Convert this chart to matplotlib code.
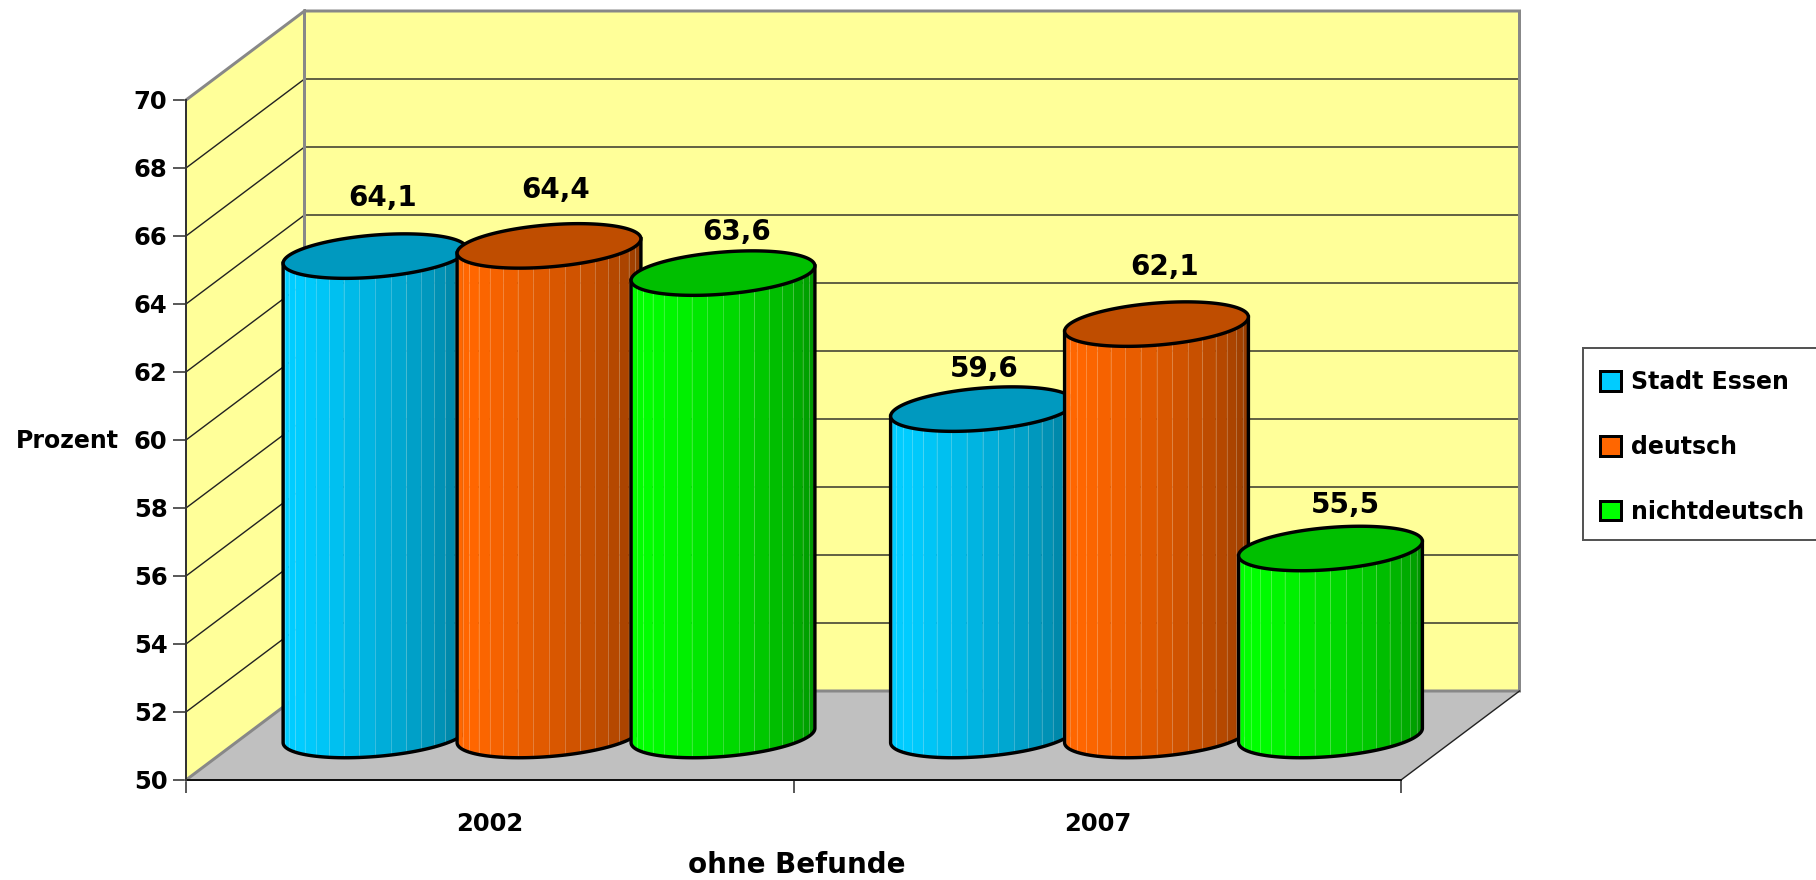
import numpy as np
import matplotlib
matplotlib.use("Agg")
import matplotlib.pyplot as plt
from matplotlib.patches import Patch, Rectangle

years = ["2002", "2007"]
series_names = ["Stadt Essen", "deutsch", "nichtdeutsch"]
stadt_essen = [64.1, 59.6]
deutsch = [64.4, 62.1]
nichtdeutsch = [63.6, 55.5]
series_values = [stadt_essen, deutsch, nichtdeutsch]
value_labels = [["64,1", "59,6"], ["64,4", "62,1"], ["63,6", "55,5"]]
series_colors = ["#00ccff", "#ff6600", "#00ff00"]
y_ticks = list(range(50, 71, 2))

# hand placed label offsets in the original, (dx, dy) in pixels from the top centre
label_offsets = [[(8, 58), (2, 40)], [(7, 56), (8, 57)], [(14, 41), (15, 43)]]

W, H = 1816, 880
FONT = "DejaVu Sans"
PX = 72 / 100  # points per pixel at dpi 100

plt.rcParams["font.family"] = FONT
plt.rcParams["font.weight"] = "bold"

fig = plt.figure(figsize=(W / 100, H / 100), dpi=100)
# the axes rectangle is the front plane of the 3d box
ax = fig.add_axes([186 / W, (H - 780) / H, 1215 / W, 680 / H])
ax.set_xlim(0, 2)
ax.set_ylim(50, 70)
ax.patch.set_visible(False)

# depth axis: d=1 is the back wall
DX = 118.5 / 607.5
DY = 89 / 34


def proj(x, v, d):
    return x + DX * d, v + DY * d


# walls and floor
xs, ys = zip(proj(0, 50, 0), proj(0, 70, 0), proj(0, 70, 1), proj(0, 50, 1))
ax.fill(xs, ys, color="#ffff99", lw=0, clip_on=False, zorder=1)
xs, ys = zip(proj(0, 50, 1), proj(0, 70, 1), proj(2, 70, 1), proj(2, 50, 1))
ax.fill(xs, ys, color="#ffff99", lw=0, clip_on=False, zorder=1)
xs, ys = zip(proj(0, 50, 0), proj(0, 50, 1), proj(2, 50, 1), proj(2, 50, 0))
ax.fill(xs, ys, color="#c0c0c0", lw=0, clip_on=False, zorder=1)

# grid lines
for t in y_ticks[1:-1]:
    xs, ys = zip(proj(0, t, 0), proj(0, t, 1), proj(2, t, 1))
    ax.plot(xs, ys, color="#222222", lw=1.4 * PX, clip_on=False, zorder=2)

# grey outline of the box
xs, ys = zip(proj(0, 70, 0), proj(0, 70, 1), proj(2, 70, 1), proj(2, 50, 1), proj(0, 50, 1), proj(0, 70, 1))
ax.plot(xs, ys, color="#888888", lw=3 * PX, clip_on=False, zorder=2, solid_joinstyle="miter")
xs, ys = zip(proj(0, 50, 0), proj(0, 50, 1))
ax.plot(xs, ys, color="#888888", lw=3 * PX, clip_on=False, zorder=2)
xs, ys = zip(proj(2, 50, 0), proj(2, 50, 1))
ax.plot(xs, ys, color="#222222", lw=1.4 * PX, clip_on=False, zorder=2)

# cylinders
radius = 0.1432
depth_r = 0.25
gap = (1 - 6 * radius) / 2
t0 = np.arctan2(depth_r * 118.5, radius * 607.5)
n_strips = 18


def ellipse(cx, v, t):
    return proj(cx + radius * np.cos(t), v, 0.5 + depth_r * np.sin(t))


def shade(color, f):
    return tuple(c * f for c in matplotlib.colors.to_rgb(color))


z = 3
for i, (vals, color) in enumerate(zip(series_values, series_colors)):
    for g, v in enumerate(vals):
        cx = g + gap + radius * (2 * i + 1)
        edges = np.linspace(t0 + np.pi, t0 + 2 * np.pi, n_strips + 1)
        for k in range(n_strips):
            f = 1.0 if k < 3 else 1.0 - 0.45 * ((k - 3) / (n_strips - 4)) ** 1.3
            tt = np.linspace(edges[k], edges[k + 1], 6)
            bx, by = ellipse(cx, 50, tt)
            ux, uy = ellipse(cx, v, tt[::-1])
            ax.fill(np.r_[bx, ux], np.r_[by, uy], color=shade(color, f), lw=0.3, clip_on=False, zorder=z)
            if k > 0:
                lx, ly = zip(ellipse(cx, 50, edges[k]), ellipse(cx, v, edges[k]))
                ax.plot(lx, ly, color="white", alpha=0.22, lw=1 * PX, clip_on=False, zorder=z)
        # outline of the body
        tt = np.linspace(t0 + np.pi, t0 + 2 * np.pi, 80)
        bx, by = ellipse(cx, 50, tt)
        lx0, ly0 = ellipse(cx, v, tt[0])
        lx1, ly1 = ellipse(cx, v, tt[-1])
        ax.plot(np.r_[lx0, bx, lx1], np.r_[ly0, by, ly1], color="black", lw=3.4 * PX,
                clip_on=False, zorder=z, solid_joinstyle="round")
        # top
        tt = np.linspace(0, 2 * np.pi, 160)
        tx, ty = ellipse(cx, v, tt)
        ax.fill(tx, ty, facecolor=shade(color, 0.75), edgecolor="black", lw=3.4 * PX, clip_on=False, zorder=z)
        dx, dy = label_offsets[i][g]
        px, py = proj(cx, v, 0.5)
        ax.annotate(value_labels[i][g], (px, py), xytext=(dx * PX, dy * PX), textcoords="offset points",
                    ha="center", va="center", fontsize=20, zorder=20, annotation_clip=False)
        z += 1

# axes
for s in ["top", "right"]:
    ax.spines[s].set_visible(False)
ax.spines["left"].set_color("#333333")
ax.spines["left"].set_linewidth(2 * PX)
ax.spines["bottom"].set_color("#111111")
ax.spines["bottom"].set_linewidth(2 * PX)
ax.spines["left"].set_zorder(30)
ax.spines["bottom"].set_zorder(2)
ax.set_yticks(y_ticks)
ax.set_xticks([0, 1, 2])
ax.set_xticklabels([])
ax.set_xticks([0.5, 1.5], labels=years, minor=True)
ax.tick_params(axis="both", which="major", length=13 * PX, width=1.6 * PX, color="#333333", labelsize=17.5, pad=4)
ax.tick_params(axis="x", which="minor", length=0, labelsize=17.5, pad=23)

fig.text(16 / W, 1 - 441 / H, "Prozent", ha="left", va="center", fontsize=17)
fig.text(797 / W, 1 - 865 / H, "ohne Befunde", ha="center", va="center", fontsize=20)

# legend, the box runs off the right edge of the picture
fig.add_artist(Rectangle((1583 / W, 1 - 540 / H), 240 / W, 192 / H, transform=fig.transFigure,
                         facecolor="white", edgecolor="#555555", lw=2 * PX))
handles = [Patch(facecolor=c, edgecolor="black", lw=3 * PX) for c in series_colors]
leg = fig.legend(handles, series_names, loc="upper left", bbox_to_anchor=(1581 / W, 1 - 351.5 / H),
                 bbox_transform=fig.transFigure, borderaxespad=0, fontsize=17, frameon=False,
                 handlelength=0.9, handleheight=0.9, handletextpad=0.4,
                 labelspacing=1.72, borderpad=0.8)

plt.savefig("out.png", dpi=100)
